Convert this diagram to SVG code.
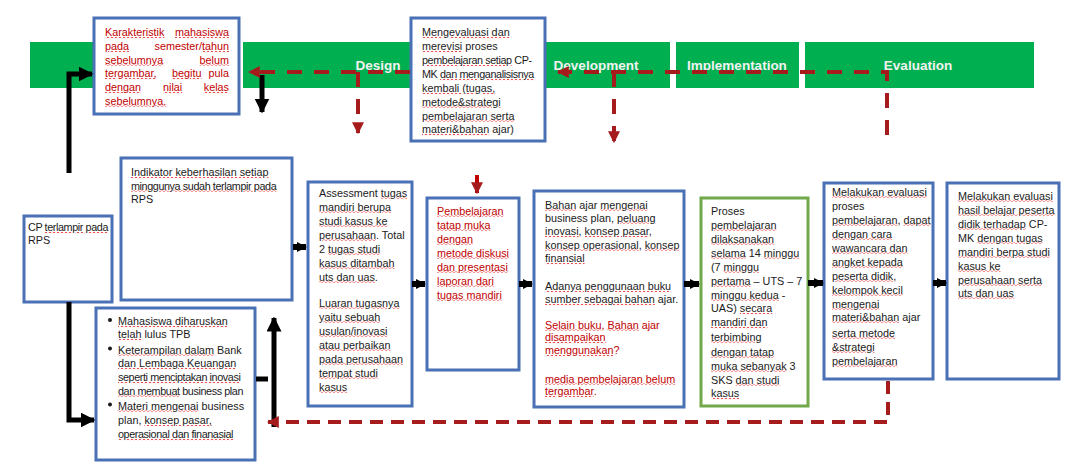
<svg xmlns="http://www.w3.org/2000/svg" width="1081" height="472" viewBox="0 0 1081 472">
<style>
.bg{fill:#ffffff}
.bar{fill:#00b050}
.bl{font-family:"Liberation Sans",Arial,sans-serif;font-weight:bold;font-size:13.5px;fill:#f2f2f2;text-anchor:middle}
.box{fill:#ffffff;stroke:#4a70b5;stroke-width:3}
.gbox{fill:#ffffff;stroke:#70a84a;stroke-width:3}
.t{font-family:"Liberation Sans",Arial,sans-serif;font-size:10.8px;fill:#1a1a1a}
.n{letter-spacing:-0.4px}
.r{fill:#c00000}
.w{fill:url(#sq);text-decoration:underline;text-decoration-thickness:2px}
.w>tspan{fill:#1a1a1a}
.r .w>tspan{fill:#c00000}
.e{text-anchor:end}
.k{stroke:#000;stroke-width:5;fill:none}
.ks{stroke:#000;stroke-width:6;fill:none}
.d{stroke:#a61c1c;stroke-width:4;fill:none;stroke-dasharray:15 12}
.d2{stroke:#a61c1c;stroke-width:4;fill:none;stroke-dasharray:13 8}
</style>
<defs>
<pattern id="sq" patternUnits="userSpaceOnUse" x="0" y="0" width="4" height="2"><path d="M0,1.8 L2,0.2 L4,1.8" stroke="#e02828" stroke-width="0.9" fill="none"/></pattern>
<marker id="ah" viewBox="0 0 10 10" refX="9" refY="5" markerWidth="3" markerHeight="3" orient="auto" markerUnits="strokeWidth"><path d="M0,0 L10,5 L0,10 z" fill="#000"/></marker>
<marker id="as" viewBox="0 0 10 10" refX="9" refY="5" markerWidth="1.7" markerHeight="1.7" orient="auto" markerUnits="strokeWidth"><path d="M0,0 L10,5 L0,10 z" fill="#000"/></marker>
<marker id="ar" viewBox="0 0 10 10" refX="9" refY="5" markerWidth="12" markerHeight="12" orient="auto" markerUnits="userSpaceOnUse"><path d="M0,0 L10,5 L0,10 z" fill="#a61c1c"/></marker>
</defs>
<rect class="bg" x="0" y="0" width="1081" height="472"/>
<g id="phases">
<rect class="bar" x="30" y="42" width="208" height="46"/>
<rect class="bar" x="243" y="42" width="270" height="46"/>
<rect class="bar" x="519" y="42" width="151" height="46"/>
<rect class="bar" x="676" y="42" width="123" height="46"/>
<rect class="bar" x="805" y="42" width="229" height="46"/>
<text class="bl" x="378" y="70">Design</text>
<text class="bl" x="596" y="70">Development</text>
<text class="bl" x="737" y="70">Implementation</text>
<text class="bl" x="918" y="70">Evaluation</text>
</g>
<g id="n-karakteristik">
<rect class="box" x="94" y="18" width="145" height="96"/>
<g class="t r">
<text x="105" y="36"><tspan class="w"><tspan>Karakteristik</tspan></tspan></text>
<text class="e" x="229" y="36"><tspan class="w"><tspan>mahasiswa</tspan></tspan></text>
<text x="105" y="50"><tspan class="w"><tspan>pada</tspan></tspan></text>
<text class="e" x="229" y="50">semester/<tspan class="w"><tspan>tahun</tspan></tspan></text>
<text x="105" y="63.5"><tspan class="w"><tspan>sebelumnya</tspan></tspan></text>
<text class="e" x="229" y="63.5"><tspan class="w"><tspan>belum</tspan></tspan></text>
<text x="105" y="77"><tspan class="w"><tspan>tergambar,</tspan></tspan></text>
<text x="172" y="77"><tspan class="w"><tspan>begitu</tspan></tspan></text>
<text class="e" x="229" y="77">pula</text>
<text x="105" y="91"><tspan class="w"><tspan>dengan</tspan></tspan></text>
<text x="163" y="91"><tspan class="w"><tspan>nilai</tspan></tspan></text>
<text class="e" x="229" y="91"><tspan class="w"><tspan>kelas</tspan></tspan></text>
<text x="105" y="104.5"><tspan class="w"><tspan>sebelumnya.</tspan></tspan></text>
</g>
</g>
<g id="n-mengevaluasi">
<rect class="box" x="411" y="18" width="134" height="123"/>
<text class="t" x="422" y="36"><tspan class="w"><tspan>Mengevaluasi dan</tspan></tspan></text>
<text class="t" x="422" y="50"><tspan class="w"><tspan>merevisi</tspan></tspan> proses</text>
<text class="t n" x="422" y="64"><tspan class="w"><tspan>pembelajaran setiap</tspan></tspan> CP-</text>
<text class="t n" x="422" y="78">MK <tspan class="w"><tspan>dan menganalisisnya</tspan></tspan></text>
<text class="t" x="422" y="92"><tspan class="w"><tspan>kembali (tugas,</tspan></tspan></text>
<text class="t" x="422" y="105.5"><tspan class="w"><tspan>metode&amp;strategi</tspan></tspan></text>
<text class="t" x="422" y="119.5"><tspan class="w"><tspan>pembelajaran serta</tspan></tspan></text>
<text class="t" x="422" y="133"><tspan class="w"><tspan>materi&amp;bahan</tspan></tspan> ajar)</text>
</g>
<g id="n-indikator">
<rect class="box" x="121" y="158" width="171" height="142"/>
<text class="t" x="131" y="176"><tspan class="w"><tspan>Indikator keberhasilan setiap</tspan></tspan></text>
<text class="t n" x="131" y="189.5"><tspan class="w"><tspan>minggunya sudah terlampir pada</tspan></tspan></text>
<text class="t" x="131" y="203">RPS</text>
</g>
<g id="n-cp">
<rect class="box" x="24" y="216" width="88" height="86"/>
<text class="t n" x="28" y="231">CP <tspan class="w"><tspan>terlampir pada</tspan></tspan></text>
<text class="t" x="28" y="244">RPS</text>
</g>
<g id="n-prasyarat">
<rect class="box" x="96" y="308" width="159" height="152"/>
<circle cx="110" cy="320" r="2" fill="#1a1a1a"/>
<circle cx="110" cy="348.5" r="2" fill="#1a1a1a"/>
<circle cx="110" cy="404.5" r="2" fill="#1a1a1a"/>
<text class="t" x="118" y="325"><tspan class="w"><tspan>Mahasiswa diharuskan</tspan></tspan></text>
<text class="t" x="118" y="338"><tspan class="w"><tspan>telah</tspan></tspan> lulus TPB</text>
<text class="t" x="118" y="353.5"><tspan class="w"><tspan>Keterampilan dalam</tspan></tspan> Bank</text>
<text class="t" x="118" y="367"><tspan class="w"><tspan>dan Lembaga Keuangan</tspan></tspan></text>
<text class="t n" x="118" y="381"><tspan class="w"><tspan>seperti menciptakan inovasi</tspan></tspan></text>
<text class="t n" x="118" y="394.5"><tspan class="w"><tspan>dan membuat</tspan></tspan> business plan</text>
<text class="t" x="118" y="409.5"><tspan class="w"><tspan>Materi mengenai</tspan></tspan> business</text>
<text class="t" x="118" y="424">plan, <tspan class="w"><tspan>konsep pasar,</tspan></tspan></text>
<text class="t n" x="118" y="438"><tspan class="w"><tspan>operasional dan finanasial</tspan></tspan></text>
</g>
<g id="n-assessment">
<rect class="box" x="308" y="182" width="104" height="224"/>
<text class="t" x="319" y="196.5">Assessment <tspan class="w"><tspan>tugas</tspan></tspan></text>
<text class="t" x="319" y="210.5"><tspan class="w"><tspan>mandiri berupa</tspan></tspan></text>
<text class="t" x="319" y="224.5"><tspan class="w"><tspan>studi kasus ke</tspan></tspan></text>
<text class="t" x="319" y="238.5"><tspan class="w"><tspan>perusahaan</tspan></tspan>. Total</text>
<text class="t" x="319" y="252.5">2 <tspan class="w"><tspan>tugas studi</tspan></tspan></text>
<text class="t" x="319" y="266.5"><tspan class="w"><tspan>kasus ditambah</tspan></tspan></text>
<text class="t" x="319" y="280.5"><tspan class="w"><tspan>uts dan uas</tspan></tspan>.</text>
<text class="t" x="319" y="306.5"><tspan class="w"><tspan>Luaran tugasnya</tspan></tspan></text>
<text class="t" x="319" y="320.5"><tspan class="w"><tspan>yaitu sebuah</tspan></tspan></text>
<text class="t" x="319" y="334.5"><tspan class="w"><tspan>usulan/inovasi</tspan></tspan></text>
<text class="t" x="319" y="348.5"><tspan class="w"><tspan>atau perbaikan</tspan></tspan></text>
<text class="t" x="319" y="362.5"><tspan class="w"><tspan>pada perusahaan</tspan></tspan></text>
<text class="t" x="319" y="376.5"><tspan class="w"><tspan>tempat studi</tspan></tspan></text>
<text class="t" x="319" y="390.5"><tspan class="w"><tspan>kasus</tspan></tspan></text>
</g>
<g id="n-pembelajaran">
<rect class="box" x="427" y="198" width="92" height="172"/>
<g class="t r">
<text x="437" y="214.5"><tspan class="w"><tspan>Pembelajaran</tspan></tspan></text>
<text x="437" y="228.5"><tspan class="w"><tspan>tatap muka</tspan></tspan></text>
<text x="437" y="242.5"><tspan class="w"><tspan>dengan</tspan></tspan></text>
<text x="437" y="256.5"><tspan class="w"><tspan>metode diskusi</tspan></tspan></text>
<text x="437" y="270.5"><tspan class="w"><tspan>dan presentasi</tspan></tspan></text>
<text x="437" y="284.5"><tspan class="w"><tspan>laporan dari</tspan></tspan></text>
<text x="437" y="298.5"><tspan class="w"><tspan>tugas mandiri</tspan></tspan></text>
</g>
</g>
<g id="n-bahan">
<rect class="box" x="534" y="191" width="150" height="216"/>
<text class="t" x="545" y="208.5"><tspan class="w"><tspan>Bahan</tspan></tspan> ajar <tspan class="w"><tspan>mengenai</tspan></tspan></text>
<text class="t" x="545" y="221.5">business plan, <tspan class="w"><tspan>peluang</tspan></tspan></text>
<text class="t" x="545" y="235"><tspan class="w"><tspan>inovasi</tspan></tspan>, <tspan class="w"><tspan>konsep pasar</tspan></tspan>,</text>
<text class="t" x="545" y="248.5"><tspan class="w"><tspan>konsep operasional</tspan></tspan>, <tspan class="w"><tspan>konsep</tspan></tspan></text>
<text class="t" x="545" y="262"><tspan class="w"><tspan>finansial</tspan></tspan></text>
<text class="t" x="545" y="290"><tspan class="w"><tspan>Adanya penggunaan buku</tspan></tspan></text>
<text class="t" x="545" y="303"><tspan class="w"><tspan>sumber sebagai bahan</tspan></tspan> ajar.</text>
<g class="t r">
<text x="545" y="328.5"><tspan class="w"><tspan>Selain buku</tspan></tspan>, <tspan class="w"><tspan>Bahan</tspan></tspan> ajar</text>
<text x="545" y="341"><tspan class="w"><tspan>disampaikan</tspan></tspan></text>
<text x="545" y="354"><tspan class="w"><tspan>menggunakan</tspan></tspan>?</text>
<text x="545" y="382.5"><tspan class="w"><tspan>media pembelajaran belum</tspan></tspan></text>
<text x="545" y="395"><tspan class="w"><tspan>tergambar</tspan></tspan>.</text>
</g>
</g>
<g id="n-proses">
<rect class="gbox" x="701" y="198" width="107" height="208"/>
<text class="t" x="711" y="214.5">Proses</text>
<text class="t" x="711" y="228.5"><tspan class="w"><tspan>pembelajaran</tspan></tspan></text>
<text class="t" x="711" y="242.5"><tspan class="w"><tspan>dilaksanakan</tspan></tspan></text>
<text class="t" x="711" y="256.5"><tspan class="w"><tspan>selama</tspan></tspan> 14 <tspan class="w"><tspan>minggu</tspan></tspan></text>
<text class="t" x="711" y="270.5">(7 <tspan class="w"><tspan>minggu</tspan></tspan></text>
<text class="t" x="711" y="284.5"><tspan class="w"><tspan>pertama</tspan></tspan> – UTS – 7</text>
<text class="t" x="711" y="298.5"><tspan class="w"><tspan>minggu kedua</tspan></tspan> -</text>
<text class="t" x="711" y="312">UAS) <tspan class="w"><tspan>secara</tspan></tspan></text>
<text class="t" x="711" y="326"><tspan class="w"><tspan>mandiri dan</tspan></tspan></text>
<text class="t" x="711" y="340.5"><tspan class="w"><tspan>terbimbing</tspan></tspan></text>
<text class="t" x="711" y="355.5"><tspan class="w"><tspan>dengan tatap</tspan></tspan></text>
<text class="t" x="711" y="369.5"><tspan class="w"><tspan>muka sebanyak</tspan></tspan> 3</text>
<text class="t" x="711" y="383.5">SKS <tspan class="w"><tspan>dan studi</tspan></tspan></text>
<text class="t" x="711" y="397"><tspan class="w"><tspan>kasus</tspan></tspan></text>
</g>
<g id="n-evaluasi-proses">
<rect class="box" x="824" y="183" width="109" height="196"/>
<text class="t" x="832" y="195.5"><tspan class="w"><tspan>Melakukan evaluasi</tspan></tspan></text>
<text class="t" x="832" y="209.5">proses</text>
<text class="t" x="832" y="223.5"><tspan class="w"><tspan>pembelajaran</tspan></tspan>, <tspan class="w"><tspan>dapat</tspan></tspan></text>
<text class="t" x="832" y="237.5"><tspan class="w"><tspan>dengan cara</tspan></tspan></text>
<text class="t" x="832" y="251.5"><tspan class="w"><tspan>wawancara dan</tspan></tspan></text>
<text class="t" x="832" y="265.5"><tspan class="w"><tspan>angket kepada</tspan></tspan></text>
<text class="t" x="832" y="279.5"><tspan class="w"><tspan>peserta didik</tspan></tspan>,</text>
<text class="t" x="832" y="293.5"><tspan class="w"><tspan>kelompok kecil</tspan></tspan></text>
<text class="t" x="832" y="307.5"><tspan class="w"><tspan>mengenai</tspan></tspan></text>
<text class="t" x="832" y="320.5"><tspan class="w"><tspan>materi&amp;bahan</tspan></tspan> ajar</text>
<text class="t" x="832" y="336.5"><tspan class="w"><tspan>serta metode</tspan></tspan></text>
<text class="t" x="832" y="350.5"><tspan class="w"><tspan>&amp;strategi</tspan></tspan></text>
<text class="t" x="832" y="364.5"><tspan class="w"><tspan>pembelajaran</tspan></tspan></text>
</g>
<g id="n-evaluasi-hasil">
<rect class="box" x="947" y="183" width="112" height="196"/>
<text class="t" x="958" y="199.5"><tspan class="w"><tspan>Melakukan evaluasi</tspan></tspan></text>
<text class="t" x="958" y="213.5"><tspan class="w"><tspan>hasil belajar peserta</tspan></tspan></text>
<text class="t" x="958" y="227.5"><tspan class="w"><tspan>didik terhadap</tspan></tspan> CP-</text>
<text class="t" x="958" y="241.5">MK <tspan class="w"><tspan>dengan tugas</tspan></tspan></text>
<text class="t" x="958" y="255.5"><tspan class="w"><tspan>mandiri berpa studi</tspan></tspan></text>
<text class="t" x="958" y="269.5"><tspan class="w"><tspan>kasus ke</tspan></tspan></text>
<text class="t" x="958" y="283.5"><tspan class="w"><tspan>perusahaan serta</tspan></tspan></text>
<text class="t" x="958" y="296.5"><tspan class="w"><tspan>uts dan uas</tspan></tspan></text>
</g>
<g id="connectors">
<path class="k" d="M69,173 V74 H92" marker-end="url(#ah)"/>
<path class="k" d="M69,302 V420 H94" marker-end="url(#ah)"/>
<path class="k" d="M262,75 V112" marker-end="url(#ah)"/>
<path class="k" d="M274,427 V318" marker-end="url(#ah)"/>
<path class="k" d="M256,379 H268"/>
<path class="ks" d="M293,247 H306" marker-end="url(#as)"/>
<path class="ks" d="M412,284 H425" marker-end="url(#as)"/>
<path class="ks" d="M519,284 H532" marker-end="url(#as)"/>
<path class="ks" d="M684,284 H699" marker-end="url(#as)"/>
<path class="ks" d="M808,283 H823" marker-end="url(#as)"/>
<path class="ks" d="M933,283 H946" marker-end="url(#as)"/>
<path class="d" d="M887,135 V72 H558" marker-end="url(#ar)"/>
<path class="d" d="M410,72 H249" marker-end="url(#ar)"/>
<path class="d" d="M358,72 V133" marker-end="url(#ar)"/>
<path class="d" d="M614,72 V142" marker-end="url(#ar)"/>
<path class="d2" d="M888,381 V422 H268" marker-end="url(#ar)"/>
<path d="M477,175 V193" stroke="#c00000" stroke-width="4" fill="none" marker-end="url(#ar)"/>
</g>
</svg>
